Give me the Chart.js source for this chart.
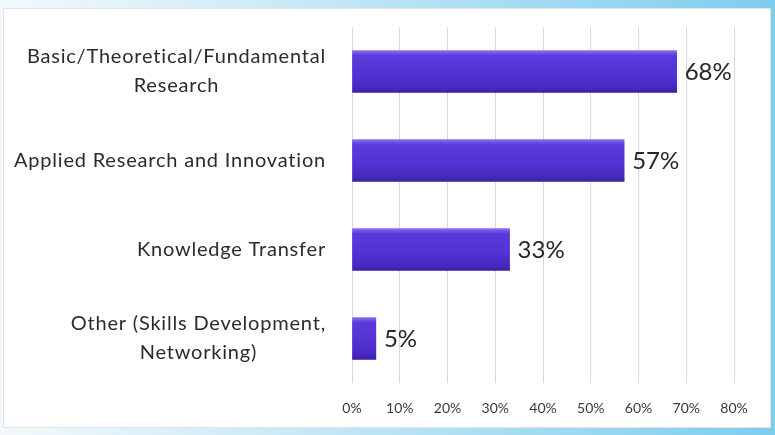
<!DOCTYPE html>
<html>
<head>
<meta charset="utf-8">
<script src="https://cdn.jsdelivr.net/npm/chart.js@4"></script>
<style>
  html, body { margin: 0; padding: 0; background: #fff; }
  #wrap { width: 775px; height: 435px; position: relative; }
  canvas { display: block; }
</style>
</head>
<body>
<div id="wrap"><canvas id="c" width="775" height="435"></canvas></div>
<script>
const categories = [
  ["Basic/Theoretical/Fundamental", "Research"],
  ["Applied Research and Innovation"],
  ["Knowledge Transfer"],
  ["Other (Skills Development,", "Networking)"]
];
const values = [68, 57, 33, 5];
const tickMin = 0, tickMax = 80, tickStep = 10;

const FONT = "Lato, 'Open Sans', sans-serif";

const bgPlugin = {
  id: 'bg',
  beforeDraw(chart) {
    const ctx = chart.ctx, W = chart.width, H = chart.height;
    ctx.save();
    const g = ctx.createLinearGradient(0, 0, W, 0);
    g.addColorStop(0, '#f3f9fc');
    g.addColorStop(0.4, '#c6e8f6');
    g.addColorStop(1, '#7dcdee');
    ctx.fillStyle = g;
    ctx.fillRect(0, 0, W, H);
    ctx.fillStyle = '#ffffff';
    ctx.fillRect(3, 8, 768, 420);
    ctx.strokeStyle = '#e2e2e2';
    ctx.lineWidth = 1;
    ctx.strokeRect(3.5, 8.5, 767, 419);
    ctx.restore();
  }
};

const labelPlugin = {
  id: 'labels',
  afterDatasetsDraw(chart) {
    const ctx = chart.ctx;
    const meta = chart.getDatasetMeta(0);
    ctx.save();
    ctx.font = "24px " + FONT;
    ctx.fillStyle = '#262626';
    ctx.textBaseline = 'middle';
    ctx.textAlign = 'left';
    meta.data.forEach((bar, i) => {
      ctx.fillText(values[i] + '%', bar.x + 8, bar.y + 1);
    });
    const y = chart.scales.y;
    ctx.font = "20px " + FONT;
    ctx.letterSpacing = '0.8px';
    ctx.fillStyle = '#2b2b2b';
    ctx.textAlign = 'center';
    const rightEdge = chart.chartArea.left - 26;
    const lh = 29;
    categories.forEach((lines, i) => {
      const cy = y.getPixelForTick(i);
      let w = 0;
      lines.forEach(l => { w = Math.max(w, ctx.measureText(l).width); });
      const cx = rightEdge - w / 2;
      const y0 = cy - (lines.length - 1) * lh / 2;
      lines.forEach((l, k) => ctx.fillText(l, cx, y0 + k * lh));
    });
    ctx.restore();
  }
};

function barFill(c) {
  const chart = c.chart;
  const ys = chart.scales && chart.scales.y;
  if (!ys || !chart.chartArea) return '#5535d4';
  const cy = ys.getPixelForValue(c.dataIndex);
  if (!isFinite(cy)) return '#5535d4';
  const g = chart.ctx.createLinearGradient(0, cy - 21, 0, cy + 21);
  g.addColorStop(0, '#8a70f0');
  g.addColorStop(0.12, '#5a3ada');
  g.addColorStop(0.6, '#5232d2');
  g.addColorStop(0.9, '#4628c0');
  g.addColorStop(1, '#3a1f9e');
  return g;
}

const ctx = document.getElementById('c').getContext('2d');
new Chart(ctx, {
  type: 'bar',
  data: {
    labels: categories,
    datasets: [{
      data: values,
      barThickness: 42,
      backgroundColor: barFill,
      borderWidth: 0
    }]
  },
  options: {
    indexAxis: 'y',
    responsive: false,
    animation: false,
    devicePixelRatio: 1,
    layout: { padding: { left: 0, right: 41, top: 27, bottom: 12 } },
    plugins: { legend: { display: false }, tooltip: { enabled: false } },
    scales: {
      x: {
        min: tickMin, max: tickMax,
        ticks: {
          stepSize: tickStep,
          callback: v => v + '%',
          font: { family: FONT, size: 14 },
          color: '#3a3a3a',
          padding: 17
        },
        grid: { color: '#d9d9d9', drawTicks: false },
        border: { display: false },
        afterFit(s) { s.height = 40; }
      },
      y: {
        ticks: { display: false },
        grid: { display: false },
        border: { display: false },
        afterFit(s) { s.width = 352; }
      }
    }
  },
  plugins: [bgPlugin, labelPlugin]
});
</script>
</body>
</html>
